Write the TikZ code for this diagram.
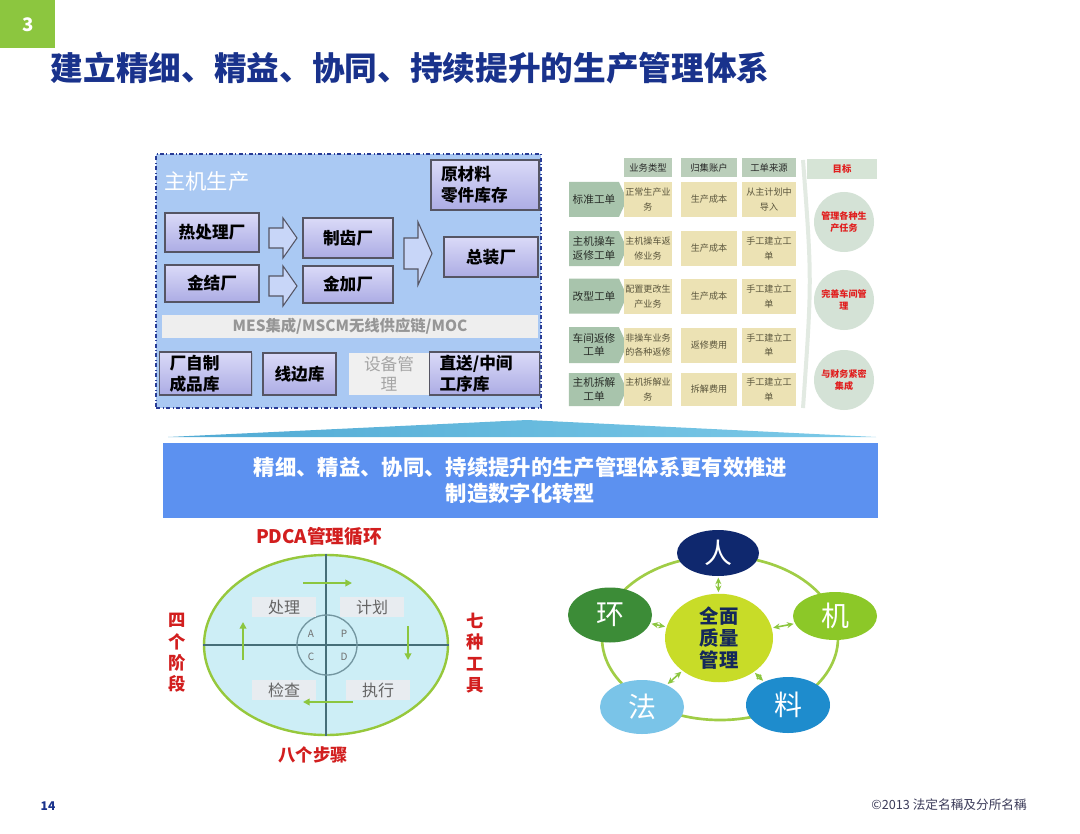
\documentclass[tikz,border=0pt]{standalone}
\usepackage{fontspec}
\setmainfont{Noto Sans CJK SC}
\usetikzlibrary{shapes.geometric,shapes.symbols,arrows.meta,shadows}
\definecolor{hgreen}{RGB}{140,198,63}
\definecolor{navy}{RGB}{25,50,140}
\definecolor{pfill}{RGB}{170,201,243}
\definecolor{pborder}{RGB}{40,60,150}
\definecolor{boxtop}{RGB}{218,218,248}
\definecolor{boxbot}{RGB}{172,172,228}
\definecolor{boxline}{RGB}{85,85,100}
\definecolor{arrfill}{RGB}{200,214,248}
\definecolor{thead}{RGB}{186,206,186}
\definecolor{rowlab}{RGB}{168,196,172}
\definecolor{cell}{RGB}{236,226,180}
\definecolor{tgt}{RGB}{212,226,214}
\definecolor{tred}{RGB}{225,30,30}
\definecolor{bannerblue}{RGB}{92,145,240}
\definecolor{pdfill}{RGB}{205,238,246}
\definecolor{pdline}{RGB}{150,200,60}
\definecolor{cross}{RGB}{70,110,120}
\definecolor{qbox}{RGB}{232,236,240}
\definecolor{pdred}{RGB}{210,30,30}
\definecolor{garrow}{RGB}{140,198,63}
\definecolor{ring}{RGB}{160,205,70}
\definecolor{corenavy}{RGB}{20,40,90}
\tikzset{
  sz/.style 2 args={minimum width=#1*0.75pt, minimum height=#2*0.75pt},
  pbox/.style={draw=boxline, line width=0.8pt, top color=boxtop, bottom color=boxbot,
    inner sep=0pt, font=\fontsize{12.5}{16}\selectfont\bfseries,
    drop shadow={shadow xshift=1pt, shadow yshift=-1pt, opacity=0.25}},
  pboxl/.style={pbox, align=left, inner xsep=7.5pt},
  blockarr/.style={draw=boxline, line width=0.8pt, fill=arrfill},
  theadst/.style={fill=thead, inner sep=0pt, font=\fontsize{7}{8}\selectfont, text={rgb,255:red,40;green,40;blue,40}},
  rowst/.style={signal, signal to=east, signal pointer angle=130, fill=rowlab, inner sep=0pt,
    align=center, font=\fontsize{8}{10}\selectfont, text={rgb,255:red,40;green,45;blue,40}},
  cellst/.style={fill=cell, inner sep=0pt, align=center, font=\fontsize{6.8}{11}\selectfont,
    text={rgb,255:red,90;green,85;blue,60}},
  tgtst/.style={circle, fill=tgt, inner sep=0pt, minimum size=60*0.75pt, align=center,
    font=\fontsize{6.8}{8.5}\selectfont\bfseries, text=tred},
  qst/.style={fill=qbox, inner sep=0pt, sz={64}{20}, font=\fontsize{12}{14}\selectfont,
    text={rgb,255:red,100;green,100;blue,100}},
  letst/.style={font=\fontsize{7.5}{9}\selectfont, text={rgb,255:red,110;green,110;blue,110}, inner sep=0pt},
  gar/.style={draw=garrow, line width=2pt, -{Triangle[length=5pt,width=5pt]}},
  redlab/.style={font=\fontsize{13}{16}\selectfont\bfseries, text=pdred, align=center, inner sep=0pt},
  mnode/.style={ellipse, inner sep=0pt, text=white, font=\fontsize{21}{24}\selectfont},
  dbl/.style={draw=garrow, line width=1.2pt, {Stealth[length=5pt,width=4.5pt]}-{Stealth[length=5pt,width=4.5pt]}, shorten <=1pt, shorten >=1pt},
}
\begin{document}
\begin{tikzpicture}[x=0.75pt,y=-0.75pt]
\useasboundingbox (0,0) rectangle (1080,834);
\fill[white] (0,0) rectangle (1080,834);

% ---------- header ----------
\node[fill=hgreen, sz={55}{48}, inner sep=0pt, anchor=north west, text=white,
  font=\fontsize{14}{16}\selectfont\bfseries] (num) at (0,0) {3};
\node[font=\fontsize{24.5}{28}\selectfont\bfseries, text=navy, inner sep=0pt] (title) at (410,68)
  {建立精细、精益、协同、持续提升的生产管理体系};

% ---------- left panel ----------
\node[draw=pborder, dash dot, line width=1.2pt, fill=pfill, sz={385}{254}, inner sep=0pt] (panel) at (348.5,281) {};
\node[text=white, font=\fontsize{16}{18}\selectfont, anchor=west, inner sep=0pt] (zj) at (164,181) {主机生产};

\node[pboxl, sz={106}{50}, text width=88*0.75pt] (raw) at (485,185) {原材料\\零件库存};
\node[pbox, sz={94}{39}] (heat) at (212,232.5) {热处理厂};
\node[pbox, sz={94}{37}] (jinjie) at (212,283.5) {金结厂};
\node[pbox, sz={90}{40}] (zhichi) at (348,238) {制齿厂};
\node[pbox, sz={90}{37}] (jinjia) at (348,284.5) {金加厂};
\node[pbox, sz={94}{40}] (zong) at (491,257) {总装厂};

\path[blockarr] (269,228)--(283,228)--(283,218)--(297,238)--(283,258)--(283,248)--(269,248)--cycle;
\path[blockarr] (269,276)--(283,276)--(283,266)--(297,286)--(283,306)--(283,296)--(269,296)--cycle;
\path[blockarr] (404,238)--(418,238)--(418,222)--(432,253.5)--(418,285)--(418,269)--(404,269)--cycle;

\node[fill={rgb,255:red,238;green,238;blue,238}, sz={376}{23}, inner sep=0pt,
  font=\fontsize{11.5}{13}\selectfont\bfseries, text={rgb,255:red,150;green,150;blue,150}] (mes) at (350,326.5)
  {MES集成/MSCM无线供应链/MOC};

\node[pboxl, sz={87}{43}, text width=72*0.75pt, font=\fontsize{12.5}{15.5}\selectfont\bfseries] (cpk) at (205.5,373.5) {厂自制\\成品库};
\node[pbox, sz={73}{42}] (xbk) at (299.5,374) {线边库};
\node[fill={rgb,255:red,240;green,240;blue,240}, sz={80}{42}, inner sep=0pt, align=center,
  font=\fontsize{12.5}{15.5}\selectfont, text={rgb,255:red,165;green,165;blue,165}] (sbgl) at (389,374) {设备管\\理};
\node[pboxl, sz={105}{43}, text width=90*0.75pt, font=\fontsize{12.5}{15.5}\selectfont\bfseries] (zsk) at (484.5,373.5) {直送/中间\\工序库};

% ---------- right table ----------
\draw[line width=3pt, color={rgb,255:red,226;green,234;blue,226}] (803,160) .. controls (812,280) .. (803,408);

\node[theadst, sz={48}{19}] (h1) at (648,167.5) {业务类型};
\node[theadst, sz={56}{19}] (h2) at (709,167.5) {归集账户};
\node[theadst, sz={54}{19}] (h3) at (769,167.5) {工单来源};

\node[rowst, sz={58}{35}] (r1) at (594,199.5) {标准工单};
\node[rowst, sz={58}{35}] (r2) at (594,248.5) {主机操车\\返修工单};
\node[rowst, sz={58}{35}] (r3) at (594,296) {改型工单};
\node[rowst, sz={58}{36}] (r4) at (594,345) {车间返修\\工单};
\node[rowst, sz={58}{33}] (r5) at (594,389.5) {主机拆解\\工单};

\node[cellst, sz={48}{35}] (c11) at (648,199.5) {正常生产业\\务};
\node[cellst, sz={56}{35}] (c12) at (709,199.5) {生产成本};
\node[cellst, sz={54}{35}] (c13) at (769,199.5) {从主计划中\\导入};
\node[cellst, sz={48}{35}] (c21) at (648,248.5) {主机操车返\\修业务};
\node[cellst, sz={56}{35}] (c22) at (709,248.5) {生产成本};
\node[cellst, sz={54}{35}] (c23) at (769,248.5) {手工建立工\\单};
\node[cellst, sz={48}{35}] (c31) at (648,296.5) {配置更改生\\产业务};
\node[cellst, sz={56}{35}] (c32) at (709,296.5) {生产成本};
\node[cellst, sz={54}{35}] (c33) at (769,296.5) {手工建立工\\单};
\node[cellst, sz={48}{35}] (c41) at (648,345) {非操车业务\\的各种返修};
\node[cellst, sz={56}{35}] (c42) at (709,345) {返修费用};
\node[cellst, sz={54}{35}] (c43) at (769,345) {手工建立工\\单};
\node[cellst, sz={48}{33}] (c51) at (648,389.5) {主机拆解业\\务};
\node[cellst, sz={56}{33}] (c52) at (709,389.5) {拆解费用};
\node[cellst, sz={54}{33}] (c53) at (769,389.5) {手工建立工\\单};

\node[fill={rgb,255:red,214;green,228;blue,214}, sz={70}{20}, inner sep=0pt,
  font=\fontsize{7}{8}\selectfont\bfseries, text=tred] (tg) at (842,169) {目标};
\node[tgtst] (t1) at (844,222) {管理各种生\\产任务};
\node[tgtst] (t2) at (844,300) {完善车间管\\理};
\node[tgtst] (t3) at (844,380) {与财务紧密\\集成};

% ---------- banner ----------
\shade[left color={rgb,255:red,80;green,170;blue,212}, right color={rgb,255:red,125;green,202;blue,232}]
  (168,437) -- (527,420) -- (876,437) -- cycle;
\node[fill=bannerblue, sz={715}{75}, inner sep=0pt, text=white, align=center,
  font=\fontsize{16}{19.5}\selectfont\bfseries] (banner) at (520.5,480.5)
  {精细、精益、协同、持续提升的生产管理体系更有效推进\\制造数字化转型};

% ---------- PDCA ----------
\node[font=\fontsize{14}{16}\selectfont\bfseries, text=pdred, inner sep=0pt] (pdcat) at (319,536) {PDCA管理循环};
\node[ellipse, draw=pdline, line width=1.8pt, fill=pdfill, sz={244}{180}, inner sep=0pt] (pd) at (326,645) {};
\draw[cross, line width=1.5pt] (pd.west) -- (pd.east);
\draw[cross, line width=1.5pt] (pd.north) -- (pd.south);
\node[circle, draw={rgb,255:red,115;green,150;blue,160}, line width=1pt, minimum size=60*0.75pt, inner sep=0pt] (pc) at (327,645) {};
\node[letst] (la) at (311,634) {A};
\node[letst] (lp) at (344,634) {P};
\node[letst] (lc) at (311,657) {C};
\node[letst] (ld) at (344,657) {D};

\node[qst] (q1) at (284,607) {处理};
\node[qst] (q2) at (372,607) {计划};
\node[qst] (q3) at (284,690) {检查};
\node[qst] (q4) at (378,690) {执行};

\coordinate (ga1) at (303,583); \coordinate (ga2) at (352,583);
\coordinate (gb1) at (408,626); \coordinate (gb2) at (408,660);
\coordinate (gc1) at (353,702); \coordinate (gc2) at (303,702);
\coordinate (gd1) at (243,660); \coordinate (gd2) at (243,622);
\draw[gar] (ga1) -- (ga2);
\draw[gar] (gb1) -- (gb2);
\draw[gar] (gc1) -- (gc2);
\draw[gar] (gd1) -- (gd2);

\node[redlab] (sijd) at (177,653) {四\\个\\阶\\段};
\node[redlab] (qzgj) at (475,653) {七\\种\\工\\具};
\node[font=\fontsize{13}{15}\selectfont\bfseries, text=pdred, inner sep=0pt] (bgbz) at (313,755) {八个步骤};

% ---------- 5M ----------
\node[ellipse, draw=ring, line width=2pt, sz={236}{164}, inner sep=0pt] (ringn) at (720,638) {};
\node[mnode, fill={rgb,255:red,15;green,40;blue,110}, sz={82}{46}] (ren) at (718,553) {人};
\node[mnode, fill={rgb,255:red,140;green,200;blue,40}, sz={84}{48}] (ji) at (835,616) {机};
\node[mnode, fill={rgb,255:red,30;green,140;blue,205}, sz={84}{56}] (liao) at (788,705) {料};
\node[mnode, fill={rgb,255:red,122;green,196;blue,232}, sz={84}{54}] (fa) at (642,707) {法};
\node[mnode, fill={rgb,255:red,60;green,140;blue,55}, sz={84}{55}] (huan) at (610,615) {环};
\node[ellipse, fill={rgb,255:red,200;green,220;blue,40}, sz={108}{73}, inner sep=0pt, align=center,
  text=corenavy, font=\fontsize{14.5}{16.5}\selectfont\bfseries] (core) at (719,638) {全面\\质量\\管理};
\draw[dbl] (core) -- (ren);
\draw[dbl] (core) -- (ji);
\draw[dbl] (core) -- (liao);
\draw[dbl] (core) -- (fa);
\draw[dbl] (core) -- (huan);

% ---------- footer ----------
\node[font=\fontsize{9}{10}\selectfont\bfseries, text=navy, inner sep=0pt] (pg) at (48,806) {14};
\node[font=\fontsize{9.5}{10}\selectfont, text={rgb,255:red,60;green,60;blue,90}, inner sep=0pt] (copy) at (949,805)
  {©2013 法定名稱及分所名稱};
\end{tikzpicture}
\end{document}
